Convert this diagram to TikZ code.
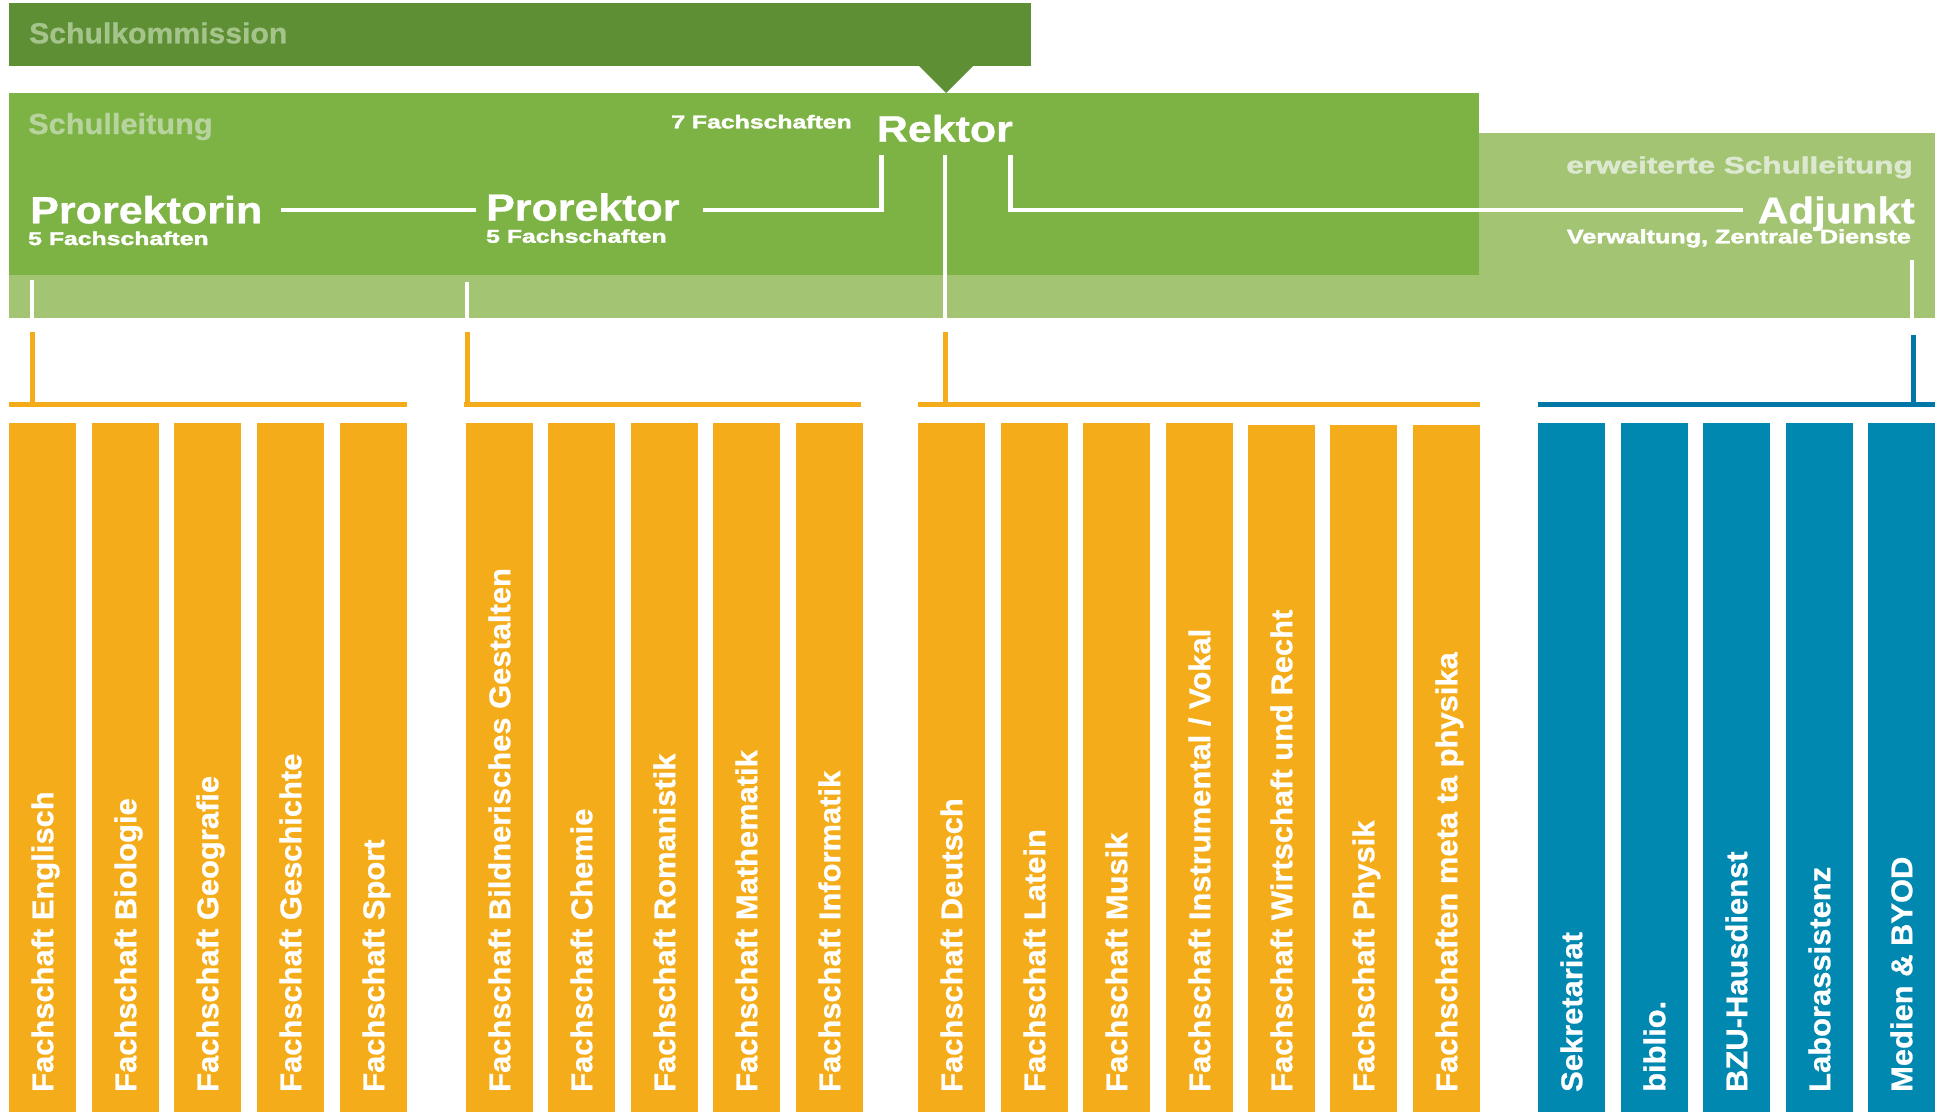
\documentclass[tikz,border=0pt]{standalone}
\usepackage{fontspec}
\setmainfont{Liberation Sans}
\newfontfamily\hbfa[BoldFeatures={FakeBold=0.8}]{Liberation Sans}
\newfontfamily\hbfb[BoldFeatures={FakeBold=1.8}]{Liberation Sans}
\usepackage{graphicx}
\usetikzlibrary{calc}
\definecolor{gdark}{HTML}{5F8F34}
\definecolor{gmid}{HTML}{7DB244}
\definecolor{glight}{HTML}{A3C573}
\definecolor{orng}{HTML}{F5AC1A}
\definecolor{blu}{HTML}{0088B1}
\definecolor{bluline}{HTML}{0077A6}
\definecolor{tkomm}{HTML}{A4C48B}
\definecolor{tleit}{HTML}{B8D49E}
\definecolor{terw}{HTML}{DCE8CF}
% big/medium text
\newcommand\txt[3]{{\hbfa\fontsize{#1}{#1}\selectfont\bfseries\scalebox{#2}[1]{#3}}}
% small text
\newcommand\stxt[3]{{\hbfb\fontsize{#1}{#1}\selectfont\bfseries\scalebox{#2}[1]{#3}}}
\newcommand\fachbox[5]{%
  \node[fb, fill=#4, minimum height={1112-#3}] (#1) at ({#2+33.5},{(1112+#3)/2}) {};
  \node[ft] (#1t) at ({#2+33.5+10.7},1092) {\txt{30}{1.03}{#5}};
}
\tikzset{
  fb/.style={rectangle, draw=none, inner sep=0pt, minimum width=67pt},
  ft/.style={rotate=90, anchor=base west, inner sep=0pt, text=white},
  hl/.style={anchor=base west, inner sep=0pt, text=white},
  hr/.style={anchor=base east, inner sep=0pt, text=white},
  wl/.style={draw=white, line width=4.5pt},
  ol/.style={draw=orng, line width=5pt},
  bl/.style={draw=bluline, line width=5pt},
}
\begin{document}
\begin{tikzpicture}[x=1pt,y=-1pt]
\useasboundingbox (0,0) rectangle (1935,1112);
\fill[white] (0,0) rectangle (1935,1112);
% bands
\fill[gdark] (9,3) rectangle (1031,66);
\fill[gdark] (918,65) -- (974,65) -- (946,93) -- cycle;
\fill[glight] (9,274) rectangle (1935,318);
\fill[glight] (1479,133.3) rectangle (1935,275);
\fill[gmid] (9,93) rectangle (1479,275);
% header texts
\node[hl, text=tkomm] (komm) at (29,43.3) {\txt{29}{1.04}{Schulkommission}};
\node[hl, text=tleit] (leit) at (28,134) {\txt{29}{1.06}{Schulleitung}};
\node[hr] (f7) at (852,128.3) {\stxt{18.5}{1.34}{7 Fachschaften}};
\node[hl] (rektor) at (876.7,141.7) {\txt{37}{1.16}{Rektor}};
\node[hl] (prorin) at (30,223.3) {\txt{38}{1.133}{Prorektorin}};
\node[hl] (f5a) at (28,245) {\stxt{18.5}{1.34}{5 Fachschaften}};
\node[hl] (pror) at (486,220.7) {\txt{38}{1.13}{Prorektor}};
\node[hl] (f5b) at (486,242.7) {\stxt{18.5}{1.34}{5 Fachschaften}};
\node[hr, text=terw] (erw) at (1913,173.3) {\stxt{23.5}{1.34}{erweiterte Schulleitung}};
\node[hr] (adj) at (1915,223.3) {\txt{37}{1.14}{Adjunkt}};
\node[hr] (verw) at (1911,243.3) {\stxt{19.5}{1.29}{Verwaltung, Zentrale Dienste}};
% connector coordinates
\coordinate (a1) at (281,210);
\coordinate (a2) at (476,210);
\coordinate (b1) at (702.7,210);
\coordinate (b2) at (881.7,155);
\coordinate (c1) at (1010.5,155);
\coordinate (c2) at (1743,210);
\coordinate (r1) at (945,155);
\coordinate (r2) at (945,318);
\coordinate (p1) at (32,280);
\coordinate (p2) at (32,318);
\coordinate (q1) at (467,281.7);
\coordinate (q2) at (467,318);
\coordinate (d1) at (1912,260);
\coordinate (d2) at (1912,318);
% white connectors
\draw[wl] (a1) -- (a2);
\draw[wl] (b1) -| (b2);
\draw[wl] (c1) |- (c2);
\draw[wl] (r1) -- (r2);
\draw[wl] (p1) -- (p2);
\draw[wl] (q1) -- (q2);
\draw[wl] (d1) -- (d2);
% brackets
\coordinate (o1t) at (32,332);   \coordinate (o1b) at (32,404.5);
\coordinate (o1l) at (9,404.5);  \coordinate (o1r) at (407,404.5);
\coordinate (o2t) at (467,332);  \coordinate (o2b) at (467,404.5);
\coordinate (o2l) at (464,404.5);\coordinate (o2r) at (861,404.5);
\coordinate (o3t) at (945,332);  \coordinate (o3b) at (945,404.5);
\coordinate (o3l) at (918,404.5);\coordinate (o3r) at (1480,404.5);
\coordinate (o4t) at (1913.5,335); \coordinate (o4b) at (1913.5,404.5);
\coordinate (o4l) at (1538,404.5); \coordinate (o4r) at (1935,404.5);
\draw[ol] (o1t) -- (o1b); \draw[ol] (o1l) -- (o1r);
\draw[ol] (o2t) -- (o2b); \draw[ol] (o2l) -- (o2r);
\draw[ol] (o3t) -- (o3b); \draw[ol] (o3l) -- (o3r);
\draw[bl] (o4t) -- (o4b); \draw[bl] (o4l) -- (o4r);
% boxes
\fachbox{g1a}{9}{423}{orng}{Fachschaft Englisch}
\fachbox{g1b}{92}{423}{orng}{Fachschaft Biologie}
\fachbox{g1c}{174}{423}{orng}{Fachschaft Geografie}
\fachbox{g1d}{257}{423}{orng}{Fachschaft Geschichte}
\fachbox{g1e}{340}{423}{orng}{Fachschaft Sport}
\fachbox{g2a}{466}{423}{orng}{Fachschaft Bildnerisches Gestalten}
\fachbox{g2b}{548}{423}{orng}{Fachschaft Chemie}
\fachbox{g2c}{631}{423}{orng}{Fachschaft Romanistik}
\fachbox{g2d}{713}{423}{orng}{Fachschaft Mathematik}
\fachbox{g2e}{796}{423}{orng}{Fachschaft Informatik}
\fachbox{g3a}{918}{423}{orng}{Fachschaft Deutsch}
\fachbox{g3b}{1001}{423}{orng}{Fachschaft Latein}
\fachbox{g3c}{1083}{423}{orng}{Fachschaft Musik}
\fachbox{g3d}{1166}{423}{orng}{Fachschaft Instrumental / Vokal}
\fachbox{g3e}{1248}{425}{orng}{Fachschaft Wirtschaft und Recht}
\fachbox{g3f}{1330}{425}{orng}{Fachschaft Physik}
\fachbox{g3g}{1413}{425}{orng}{Fachschaften meta ta physika}
\fachbox{g4a}{1538}{423}{blu}{Sekretariat}
\fachbox{g4b}{1621}{423}{blu}{biblio.}
\fachbox{g4c}{1703}{423}{blu}{BZU-Hausdienst}
\fachbox{g4d}{1786}{423}{blu}{Laborassistenz}
\fachbox{g4e}{1868}{423}{blu}{Medien \& BYOD}
\end{tikzpicture}
\end{document}
